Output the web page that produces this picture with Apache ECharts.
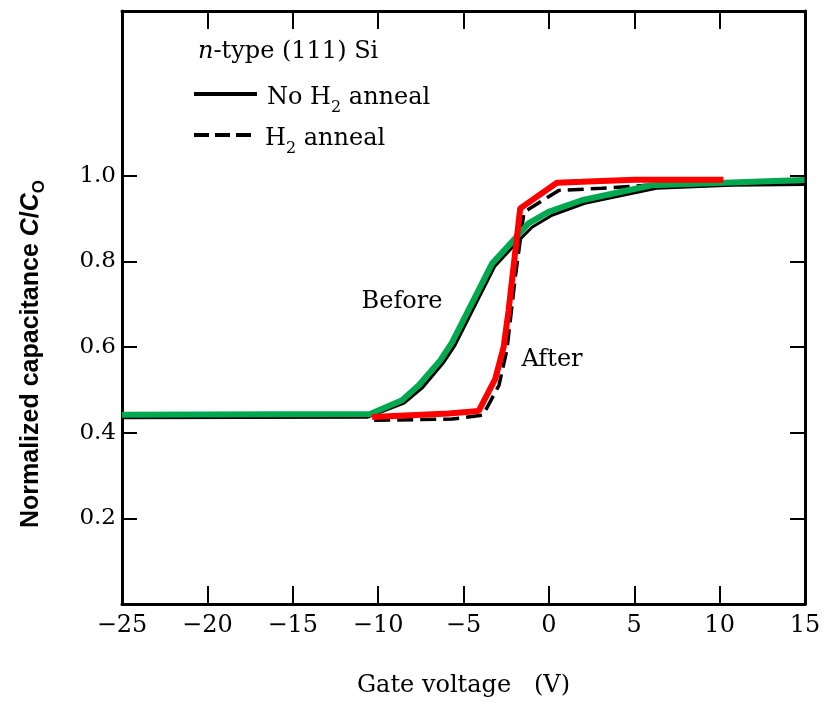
<!DOCTYPE html>
<html><head><meta charset="utf-8">
<script src="https://cdn.jsdelivr.net/npm/echarts@6/dist/echarts.min.js"></script>
<style>html,body{margin:0;padding:0;background:#fff}#c{width:825px;height:705px}</style>
</head><body><div id="c"></div>
<script>
// ---- data ----
const xRange = [-25, 15];
const yTickValues = [0.2, 0.4, 0.6, 0.8, 1.0];

// black solid: No H2 anneal
const noAnnealBlack = [[-25,0.435],[-10.64,0.436],[-8.48,0.469],[-7.43,0.504],[-6.2,0.562],[-5.5,0.604],[-3.16,0.789],[-1.81,0.847],[-0.99,0.880],[0.18,0.908],[2.1,0.936],[6.3,0.971],[10.7,0.978],[15,0.980]];
// black dashed: H2 anneal
const annealBlack = [[-10.23,0.429],[-5.67,0.432],[-3.86,0.441],[-2.92,0.511],[-2.46,0.593],[-1.99,0.756],[-1.46,0.915],[0.58,0.966],[3.1,0.971],[5.73,0.978]];
// green trace: Before
const beforeTrace = [[-25,0.442],[-10.47,0.444],[-8.6,0.476],[-7.62,0.511],[-6.36,0.569],[-5.67,0.611],[-3.33,0.795],[-1.97,0.854],[-1.19,0.889],[-0.02,0.916],[1.93,0.943],[6.02,0.978],[14.97,0.990]];
// red trace: After
const afterTrace = [[-10.35,0.437],[-5.87,0.445],[-4.11,0.451],[-3.14,0.526],[-2.65,0.600],[-2.36,0.686],[-2.16,0.756],[-1.68,0.924],[0.47,0.984],[1.93,0.986],[5.03,0.991],[10.22,0.991]];

const serif = 'DejaVu Serif';
const sans = 'Liberation Sans';
const fmtX = v => (v < 0 ? '\u2212' + (-v) : String(v));

const chart = echarts.init(document.getElementById('c'), null, {renderer: 'canvas'});

const axisLine = {show: true, onZero: false, lineStyle: {color: '#000', width: 3}};
const tickX = {show: true, inside: true, length: 18, lineStyle: {color: '#000', width: 2}};
const tickY = {show: true, inside: true, length: 15, lineStyle: {color: '#000', width: 2}, customValues: yTickValues};

chart.setOption({
  animation: false,
  backgroundColor: '#fff',
  grid: {left: 122, top: 11, width: 683, height: 593, containLabel: false},
  xAxis: [
    {type: 'value', position: 'bottom', min: xRange[0], max: xRange[1], interval: 5,
     axisLine: axisLine, axisTick: tickX, splitLine: {show: false},
     axisLabel: {formatter: fmtX, fontFamily: serif, fontSize: 24, color: '#000', margin: 10},
     name: 'Gate voltage   (V)', nameLocation: 'middle', nameGap: 70,
     nameTextStyle: {fontFamily: serif, fontSize: 24, color: '#000'}},
    {type: 'value', position: 'top', min: xRange[0], max: xRange[1], interval: 5,
     axisLine: axisLine, axisTick: tickX, splitLine: {show: false}, axisLabel: {show: false}}
  ],
  yAxis: [
    {type: 'value', position: 'left', min: 0, max: 1.385, interval: 0.2,
     axisLine: axisLine, axisTick: tickY, splitLine: {show: false},
     axisLabel: {customValues: yTickValues, formatter: v => v.toFixed(1), fontFamily: serif, fontSize: 23, color: '#000', margin: 6}},
    {type: 'value', position: 'right', min: 0, max: 1.385, interval: 0.2,
     axisLine: axisLine, axisTick: tickY, splitLine: {show: false}, axisLabel: {show: false}}
  ],
  series: [
    {name: 'No H\u2082 anneal', type: 'line', data: noAnnealBlack, showSymbol: false, symbol: 'none',
     lineStyle: {color: '#000', width: 3}, z: 2},
    {name: 'H\u2082 anneal', type: 'line', data: annealBlack, showSymbol: false, symbol: 'none',
     lineStyle: {color: '#000', width: 3.5, type: [16, 7]}, z: 3},
    {name: 'Before', type: 'line', data: beforeTrace, showSymbol: false, symbol: 'none',
     lineStyle: {color: '#00a84f', width: 6}, z: 4},
    {name: 'After', type: 'line', data: afterTrace, showSymbol: false, symbol: 'none',
     lineStyle: {color: '#ff0000', width: 6}, z: 5}
  ],
  graphic: [
    {type: 'text', x: 31, y: 354, rotation: Math.PI / 2,
     style: {text: '{a|Normalized capacitance }{i|C}{a|/}{i|C}{s|O}', align: 'center', verticalAlign: 'middle',
       rich: {
         a: {fontFamily: sans, fontWeight: 'bold', fontSize: 25, lineHeight: 34, fill: '#000'},
         i: {fontFamily: sans, fontWeight: 'bold', fontStyle: 'italic', fontSize: 25, lineHeight: 34, fill: '#000'},
         s: {fontFamily: sans, fontWeight: 'bold', fontSize: 17, lineHeight: 17, verticalAlign: 'bottom', fill: '#000'}
       }}},
    {type: 'text', x: 198, y: 52,
     style: {text: '{i|n}{t|-type (111) Si}', align: 'left', verticalAlign: 'middle',
       rich: {
         i: {fontFamily: serif, fontStyle: 'italic', fontSize: 24, fill: '#000'},
         t: {fontFamily: serif, fontSize: 24, fill: '#000'}
       }}},
    {type: 'line', shape: {x1: 194, y1: 94, x2: 257, y2: 94}, style: {stroke: '#000', lineWidth: 4}},
    {type: 'text', x: 267, y: 98,
     style: {text: '{t|No H}{s|2}{t| anneal}', align: 'left', verticalAlign: 'middle',
       rich: {
         t: {fontFamily: serif, fontSize: 24, lineHeight: 36, fill: '#000'},
         s: {fontFamily: serif, fontSize: 16, lineHeight: 16, verticalAlign: 'bottom', fill: '#000'}
       }}},
    {type: 'line', shape: {x1: 194, y1: 135, x2: 257, y2: 135}, style: {stroke: '#000', lineWidth: 4, lineDash: [15, 6]}},
    {type: 'text', x: 265, y: 139,
     style: {text: '{t|H}{s|2}{t| anneal}', align: 'left', verticalAlign: 'middle',
       rich: {
         t: {fontFamily: serif, fontSize: 24, lineHeight: 36, fill: '#000'},
         s: {fontFamily: serif, fontSize: 16, lineHeight: 16, verticalAlign: 'bottom', fill: '#000'}
       }}},
    {type: 'text', x: 402, y: 302, style: {text: 'Before', align: 'center', verticalAlign: 'middle', fontFamily: serif, fontSize: 24, fill: '#000'}},
    {type: 'text', x: 552, y: 360, style: {text: 'After', align: 'center', verticalAlign: 'middle', fontFamily: serif, fontSize: 24, fill: '#000'}}
  ]
});
</script>
</body></html>
